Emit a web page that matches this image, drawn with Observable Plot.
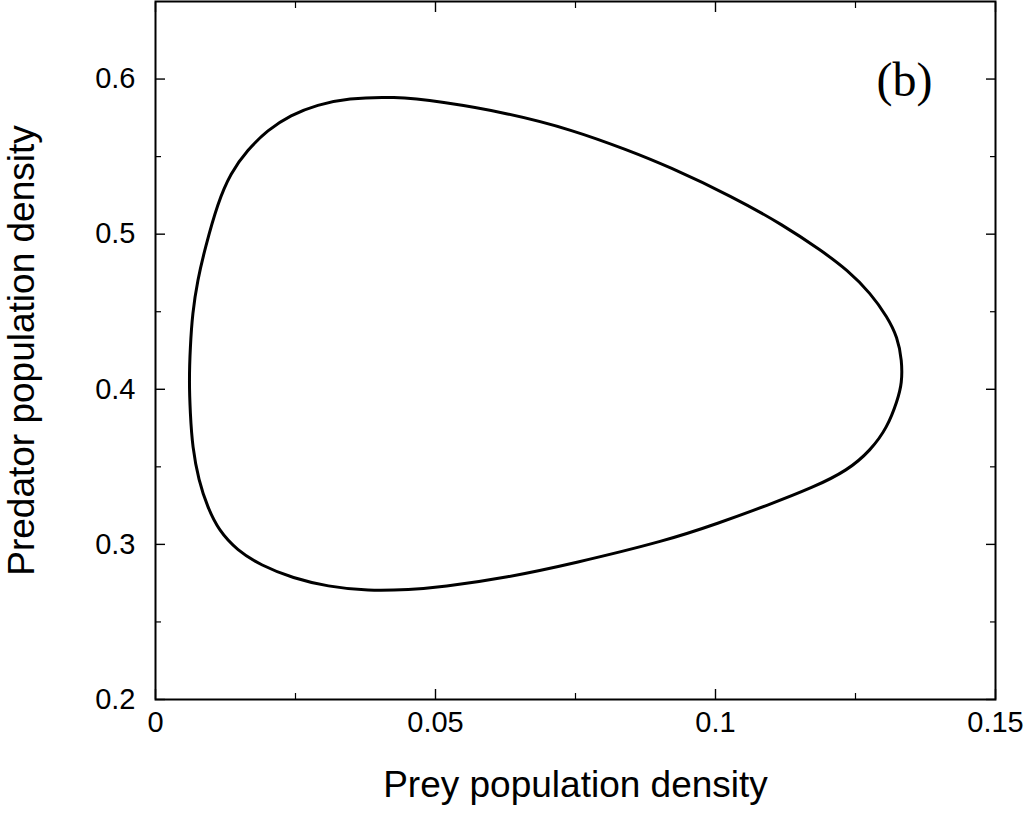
<!DOCTYPE html>
<html>
<head>
<meta charset="utf-8">
<script src="https://cdn.jsdelivr.net/npm/d3@7"></script>
<script src="https://cdn.jsdelivr.net/npm/@observablehq/plot@0.6"></script>
<style>
  html, body { margin: 0; padding: 0; background: #fff; }
  #chart svg { display: block; }
</style>
</head>
<body>
<div id="chart"></div>
<script>
// Limit cycle (prey, predator)
const prey = [
  0.0425, 0.0509, 0.0629, 0.0746, 0.0843, 0.0914, 0.1032, 0.1121, 0.1188, 0.1236,
  0.1277, 0.1307, 0.1325, 0.1333, 0.1333, 0.1325, 0.1307, 0.1277, 0.1236, 0.1175,
  0.1093, 0.1004, 0.0914, 0.0746, 0.0629, 0.0509, 0.0455, 0.0379, 0.0307, 0.0246,
  0.0188, 0.0146, 0.0113, 0.0093, 0.0077, 0.0066, 0.0062, 0.0060, 0.0062, 0.0066,
  0.0075, 0.0089, 0.0111, 0.0134, 0.0164, 0.0200, 0.0241, 0.0289, 0.0343
];
const predator = [
  0.5888, 0.5855, 0.5781, 0.5671, 0.5542, 0.5440, 0.5239, 0.5058, 0.4897, 0.4768,
  0.4619, 0.4465, 0.4335, 0.4187, 0.4039, 0.3929, 0.3755, 0.3606, 0.3477, 0.3368,
  0.3252, 0.3135, 0.3026, 0.2877, 0.2787, 0.2723, 0.2708, 0.2699, 0.2729, 0.2781,
  0.2865, 0.2961, 0.3090, 0.3239, 0.3413, 0.3626, 0.3845, 0.4058, 0.4271, 0.4490,
  0.4703, 0.4916, 0.5200, 0.5394, 0.5542, 0.5671, 0.5768, 0.5835, 0.5876
];

const xMajorTicks = [0, 0.05, 0.1, 0.15];
const xTickLabels = ["0", "0.05", "0.1", "0.15"];
const xMinorTicks = [0.025, 0.075, 0.125];
const yMajorTicks = [0.2, 0.3, 0.4, 0.5, 0.6];
const yTickLabels = ["0.2", "0.3", "0.4", "0.5", "0.6"];
const yMinorTicks = [0.25, 0.35, 0.45, 0.55];

const xTitle = "Prey population density";
const yTitle = "Predator population density";
const panelLabel = "(b)";

const cycle = prey.map((x, i) => ({prey: x, predator: predator[i]}));

const sans = "'Liberation Sans', Arial, Helvetica, sans-serif";

const chart = Plot.plot({
  width: 1025,
  height: 829,
  marginLeft: 155,
  marginRight: 30,
  marginTop: 1,
  marginBottom: 130,
  style: {fontFamily: sans, background: "#fff", color: "#000"},
  x: {domain: [0, 0.15]},
  y: {domain: [0.2, 0.65]},
  marks: [
    Plot.line(cycle, {x: "prey", y: "predator", curve: "basis-closed", stroke: "#000", strokeWidth: 3}),
    // inward ticks, all four sides
    Plot.axisX(xMajorTicks, {anchor: "bottom", tickSize: -10, text: null, label: null, strokeWidth: 1.4}),
    Plot.axisX(xMajorTicks, {anchor: "top", tickSize: -10, text: null, label: null, strokeWidth: 1.4}),
    Plot.axisX(xMinorTicks, {anchor: "bottom", tickSize: -6, text: null, label: null, strokeWidth: 1.2}),
    Plot.axisX(xMinorTicks, {anchor: "top", tickSize: -6, text: null, label: null, strokeWidth: 1.2}),
    Plot.axisY(yMajorTicks, {anchor: "left", tickSize: -10, text: null, label: null, strokeWidth: 1.4}),
    Plot.axisY(yMajorTicks, {anchor: "right", tickSize: -10, text: null, label: null, strokeWidth: 1.4}),
    Plot.axisY(yMinorTicks, {anchor: "left", tickSize: -6, text: null, label: null, strokeWidth: 1.2}),
    Plot.axisY(yMinorTicks, {anchor: "right", tickSize: -6, text: null, label: null, strokeWidth: 1.2}),
    // tick labels
    Plot.axisX(xMajorTicks, {anchor: "bottom", tickSize: 0, tickPadding: 12, fontSize: 29, label: null,
      tickFormat: (d, i) => xTickLabels[i], fill: "#000"}),
    Plot.axisY(yMajorTicks, {anchor: "left", tickSize: 0, tickPadding: 20, fontSize: 29, label: null,
      tickFormat: (d, i) => yTickLabels[i], fill: "#000"}),
    // axis titles
    Plot.text([xTitle], {frameAnchor: "bottom", text: d => d, dy: 97, fontSize: 37, fill: "#000"}),
    Plot.text([yTitle], {frameAnchor: "left", text: d => d, textAnchor: "middle", dx: -133, rotate: -90, fontSize: 37, fill: "#000"}),
    // panel label
    Plot.text([panelLabel], {frameAnchor: "top-right", text: d => d, dx: -63, dy: 60, textAnchor: "end",
      lineAnchor: "top", fontSize: 48, fontFamily: "'Liberation Serif', 'Times New Roman', serif", fill: "#000"}),
    Plot.frame({stroke: "#000", strokeWidth: 2})
  ]
});
document.getElementById("chart").appendChild(chart);
</script>
</body>
</html>
